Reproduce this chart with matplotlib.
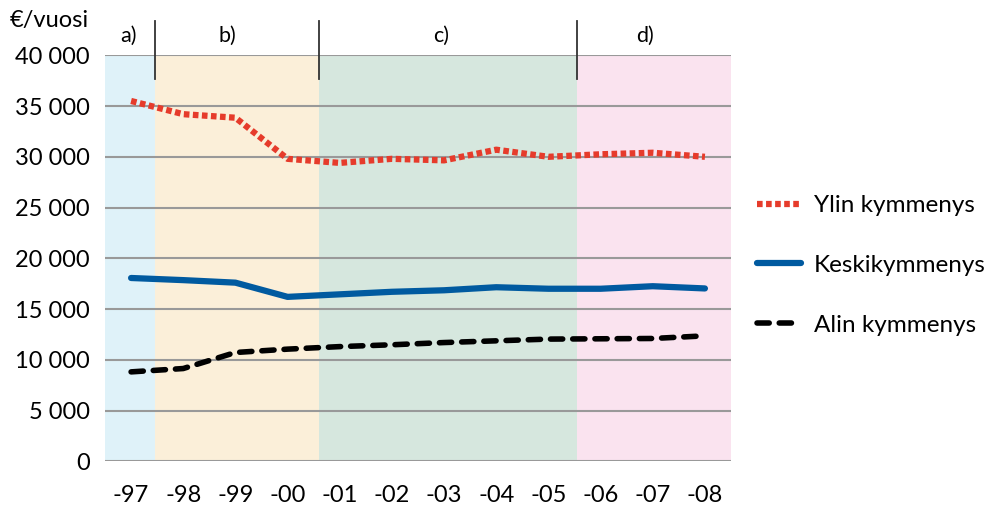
import matplotlib
matplotlib.use('Agg')
import matplotlib.pyplot as plt
import matplotlib.transforms as mtransforms
from matplotlib.ticker import FuncFormatter

plt.rcParams['font.family'] = ['Lato', 'DejaVu Sans']
plt.rcParams['font.size'] = 17

# data
years = ['-97', '-98', '-99', '-00', '-01', '-02', '-03', '-04', '-05', '-06', '-07', '-08']
ylin = [35500, 34200, 33850, 29800, 29400, 29800, 29650, 30700, 30000, 30250, 30400, 30000]
keski = [18060, 17850, 17600, 16200, 16450, 16700, 16850, 17150, 17000, 17000, 17250, 17030]
alin = [8810, 9140, 10720, 11050, 11300, 11480, 11700, 11870, 12040, 12070, 12100, 12360]

period_labels = ['a)', 'b)', 'c)', 'd)']
period_edges = [-0.5, 0.45, 3.6, 8.55, 11.5]
period_label_x = [-0.05, 1.85, 5.95, 9.85]
period_colors = ['#dff2f9', '#fbefd9', '#d6e7de', '#fae3ef']

fig = plt.figure(figsize=(10.01, 5.07), dpi=100)
ax = fig.add_axes([105 / 1001, 1 - 461.3 / 507, 626 / 1001, 406 / 507])

x = list(range(len(years)))

for i, c in enumerate(period_colors):
    ax.axvspan(period_edges[i], period_edges[i + 1], color=c, lw=0, zorder=0)

for v in range(0, 40001, 5000):
    ax.axhline(v, color='#999999', lw=1.5, zorder=1)

ax.plot(x, ylin, color='#e63b2b', lw=4.5, linestyle=(0, (0.9, 0.55)),
        solid_capstyle='butt', dash_capstyle='butt', label='Ylin kymmenys', zorder=3)
ax.plot(x, keski, color='#005aa0', lw=4.5, solid_capstyle='round',
        label='Keskikymmenys', zorder=3)
ax.plot(x, alin, color='black', lw=4, linestyle=(0, (2.2, 1.8)),
        dash_capstyle='round', label='Alin kymmenys', zorder=3)

# period separators and labels above the plot
trans = mtransforms.blended_transform_factory(ax.transData, ax.transAxes)
for e in period_edges[1:-1]:
    ax.plot([e, e], [0.9416, 1.0845], color='#333333', lw=1.3, transform=trans,
            clip_on=False, zorder=4)
for lx, lab in zip(period_label_x, period_labels):
    ax.text(lx, 1.048, lab, transform=trans, ha='center', va='center', fontsize=15.5)

ax.set_xlim(-0.5, 11.5)
ax.set_ylim(0, 40000)
ax.set_xticks(x)
ax.set_xticklabels(years)
ax.set_yticks(range(0, 40001, 5000))
ax.yaxis.set_major_formatter(FuncFormatter(lambda v, p: f'{int(v):,}'.replace(',', ' ')))
ax.tick_params(axis='y', length=0, pad=11)
ax.tick_params(axis='x', length=0, pad=17)
for s in ax.spines.values():
    s.set_visible(False)

fig.text(10 / 1001, 1 - 20 / 507, '€/vuosi', ha='left', va='center', fontsize=17)

leg = ax.legend(loc='upper left', bbox_to_anchor=(757 / 1001, 1 - 195 / 507),
                bbox_transform=fig.transFigure, frameon=False, handlelength=1.8,
                labelspacing=1.6, handletextpad=0.55, borderpad=0, borderaxespad=0,
                fontsize=17.5)

fig.savefig('out.png', dpi=100)
